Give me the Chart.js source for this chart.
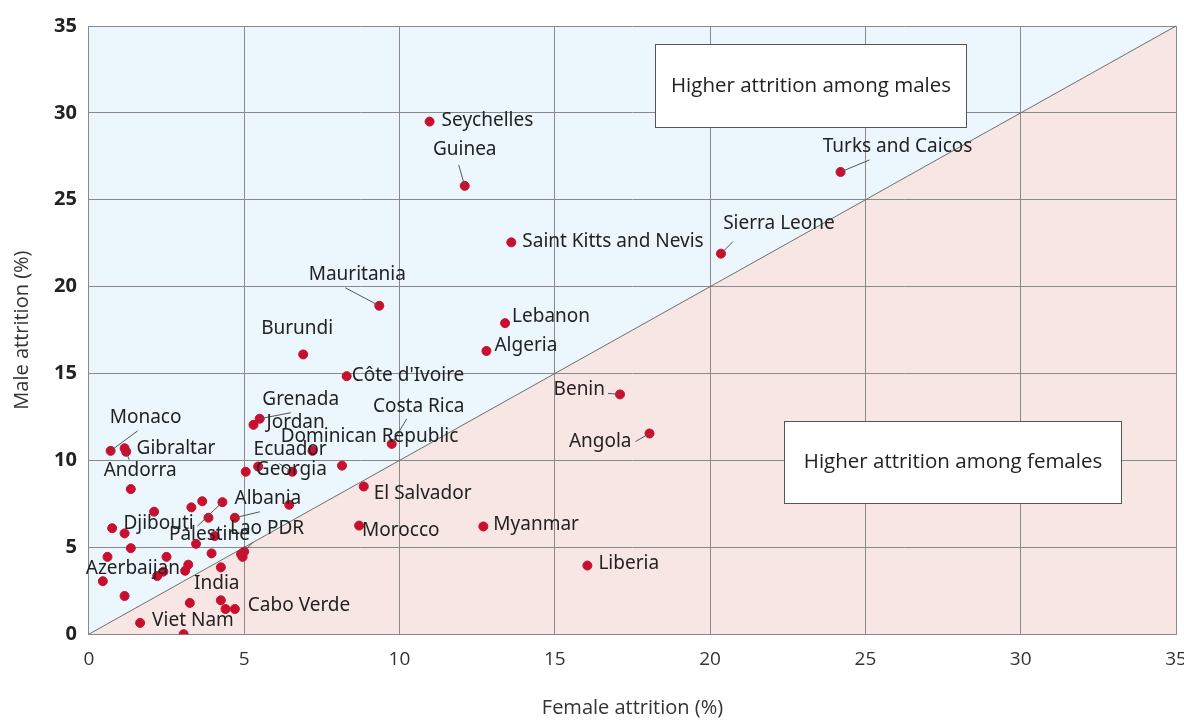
<!DOCTYPE html>
<html>
<head>
<meta charset="utf-8">
<script src="https://cdn.jsdelivr.net/npm/chart.js@4"></script>
<style>
  html, body { margin: 0; padding: 0; background: #fff; }
  #wrap { width: 1184px; height: 720px; position: relative; }
</style>
</head>
<body>
<div id="wrap"><canvas id="chart"></canvas></div>
<script>
// Attrition by country (%)
const countries = [
    'Seychelles', 'Guinea', 'Turks and Caicos', 'Saint Kitts and Nevis', 'Sierra Leone',
    'Mauritania', 'Lebanon', 'Algeria', 'Burundi', "Côte d'Ivoire",
    'Benin', 'Angola', 'Costa Rica', 'Dominican Republic', 'Grenada',
    'Jordan', 'Ecuador', 'Georgia', 'El Salvador', 'Morocco',
    'Myanmar', 'Liberia', 'Monaco', 'Gibraltar', 'Andorra',
    'Albania', 'Djibouti', 'Palestine', 'Lao PDR', 'Azerbaijan',
    'India', 'Cabo Verde', 'Viet Nam',
    '', '', '', '', '', '', '', '', '', '', '', '', '',
    '', '', '', '', '', '', '', '', '', '', '', '', ''
];
const femaleAttrition = [
    10.97, 12.1, 24.2, 13.6, 20.35,
    9.35, 13.4, 12.8, 6.9, 8.3,
    17.1, 18.05, 9.75, 7.2, 5.5,
    5.3, 5.45, 6.55, 8.85, 8.7,
    12.7, 16.05, 0.7, 1.15, 1.2,
    4.7, 1.15, 4.3, 4.9, 0.45,
    3.25, 4.7, 1.65,
    8.15, 5.05, 6.45, 1.35, 2.1, 3.3, 3.65, 3.85, 0.75, 4.05, 3.45, 1.35, 3.95,
    5.0, 4.95, 0.6, 2.5, 3.2, 3.1, 2.4, 2.2, 4.25, 1.15, 4.25, 4.4, 3.05
];
const maleAttrition = [
    29.5, 25.8, 26.6, 22.55, 21.9,
    18.9, 17.9, 16.3, 16.1, 14.85,
    13.8, 11.55, 10.95, 10.55, 12.4,
    12.05, 9.65, 9.35, 8.5, 6.25,
    6.2, 3.95, 10.55, 10.7, 10.5,
    6.7, 5.8, 7.6, 4.6, 3.05,
    1.8, 1.45, 0.65,
    9.7, 9.35, 7.45, 8.35, 7.05, 7.3, 7.65, 6.7, 6.1, 5.65, 5.2, 4.95, 4.65,
    4.75, 4.45, 4.45, 4.45, 4.0, 3.65, 3.6, 3.35, 3.85, 2.2, 1.95, 1.45, 0.0
];
const axisTicks = [0, 5, 10, 15, 20, 25, 30, 35];

// Label placement: [dx, dy, align, leaderDx, leaderDy] in px from the dot
const labelPlacement = {
    'Seychelles': [12, -1, 'left'],
    'Guinea': [0, -36, 'center', -6, -21],
    'Turks and Caicos': [57, -25, 'center', 29, -12],
    'Saint Kitts and Nevis': [11, -1, 'left'],
    'Sierra Leone': [58, -30, 'center', 12, -12],
    'Mauritania': [-22, -31, 'center', -34, -18],
    'Lebanon': [7, -7, 'left'],
    'Algeria': [8, -5, 'left'],
    'Burundi': [-6, -26, 'center'],
    "Côte d'Ivoire": [5, -1, 'left'],
    'Benin': [-15, -5, 'right', -12, -1],
    'Angola': [-18, 8, 'right', -14, 8],
    'Costa Rica': [27, -37, 'center', 15, -25],
    'Dominican Republic': [57, -14, 'center'],
    'Grenada': [41, -19, 'center', 31, -6],
    'Jordan': [13, -2, 'left'],
    'Ecuador': [32, -17, 'center'],
    'Georgia': [-1, -2, 'center', -13, -8],
    'El Salvador': [10, 7, 'left'],
    'Morocco': [3, 5, 'left'],
    'Myanmar': [10, -2, 'left'],
    'Liberia': [11, -2, 'left'],
    'Monaco': [35, -33, 'center', 27, -20],
    'Gibraltar': [12, 0, 'left'],
    'Andorra': [14, 19, 'center', 3, 8],
    'Albania': [33, -19, 'center', 25, -6],
    'Djibouti': [34, -10, 'center'],
    'Palestine': [-13, 32, 'center', -25, 24],
    'Lao PDR': [26, -26, 'center', 12, -12],
    'Azerbaijan': [30, -13, 'center'],
    'India': [27, -19, 'center'],
    'Cabo Verde': [13, -3, 'left'],
    'Viet Nam': [12, -2, 'left']
};

const points = femaleAttrition.map((f, i) => ({ x: f, y: maleAttrition[i], name: countries[i] }));

const regionPlugin = {
    id: 'regions',
    beforeDraw(chart) {
        const { ctx, chartArea: a, scales: { x, y } } = chart;
        ctx.save();
        ctx.fillStyle = '#ebf6fd';
        ctx.fillRect(a.left, a.top, a.right - a.left, a.bottom - a.top);
        ctx.fillStyle = '#f8e6e4';
        ctx.beginPath();
        ctx.moveTo(x.getPixelForValue(0), y.getPixelForValue(0));
        ctx.lineTo(x.getPixelForValue(35), y.getPixelForValue(35));
        ctx.lineTo(x.getPixelForValue(35), y.getPixelForValue(0));
        ctx.closePath();
        ctx.fill();
        ctx.restore();
    },
    beforeDatasetsDraw(chart) {
        const { ctx, scales: { x, y } } = chart;
        ctx.save();
        ctx.strokeStyle = '#6f6f6f';
        ctx.lineWidth = 1;
        ctx.beginPath();
        ctx.moveTo(x.getPixelForValue(0), y.getPixelForValue(0));
        ctx.lineTo(x.getPixelForValue(35), y.getPixelForValue(35));
        ctx.stroke();

        // annotation boxes
        const boxes = [
            { x0: 18.24, x1: 28.24, y0: 33.97, y1: 29.18, text: 'Higher attrition among males' },
            { x0: 22.39, x1: 33.23, y0: 12.28, y1: 7.55, text: 'Higher attrition among females' }
        ];
        boxes.forEach(b => {
            const l = Math.round(x.getPixelForValue(b.x0)) + 0.5;
            const r = Math.round(x.getPixelForValue(b.x1)) + 0.5;
            const t = Math.round(y.getPixelForValue(b.y0)) + 0.5;
            const btm = Math.round(y.getPixelForValue(b.y1)) + 0.5;
            ctx.fillStyle = '#ffffff';
            ctx.fillRect(l, t, r - l, btm - t);
            ctx.strokeStyle = '#555';
            ctx.strokeRect(l, t, r - l, btm - t);
            ctx.fillStyle = '#222';
            ctx.font = "20.5px 'Open Sans', sans-serif";
            ctx.textAlign = 'center';
            ctx.textBaseline = 'middle';
            ctx.fillText(b.text, (l + r) / 2, (t + btm) / 2);
        });
        ctx.restore();
    },
    afterDatasetsDraw(chart) {
        const { ctx } = chart;
        const meta = chart.getDatasetMeta(0);
        ctx.save();
        ctx.font = "19px 'Noto Sans', sans-serif";
        ctx.textBaseline = 'middle';
        meta.data.forEach((el, i) => {
            const name = countries[i];
            if (!name || !labelPlacement[name]) return;
            const [dx, dy, align, lx, ly] = labelPlacement[name];
            if (lx !== undefined) {
                ctx.strokeStyle = '#555';
                ctx.lineWidth = 1;
                ctx.beginPath();
                ctx.moveTo(el.x, el.y);
                ctx.lineTo(el.x + lx, el.y + ly);
                ctx.stroke();
            }
            ctx.fillStyle = '#222';
            ctx.textAlign = align;
            ctx.fillText(name, el.x + dx, el.y + dy);
        });
        ctx.restore();
    }
};

new Chart(document.getElementById('chart'), {
    type: 'scatter',
    data: {
        datasets: [{
            label: 'Attrition',
            data: points,
            backgroundColor: '#c8102e',
            borderColor: '#c8102e',
            pointRadius: 4.5,
            pointHoverRadius: 4.5
        }]
    },
    options: {
        responsive: true,
        maintainAspectRatio: false,
        animation: false,
        layout: { padding: { top: 26, right: 8, left: 10, bottom: 0 } },
        plugins: {
            legend: { display: false },
            tooltip: { enabled: false }
        },
        scales: {
            x: {
                type: 'linear',
                min: 0,
                max: 35,
                afterBuildTicks: axis => { axis.ticks = axisTicks.map(v => ({ value: v })); },
                afterFit: axis => { axis.paddingLeft = 0; axis.paddingRight = 0; },
                grid: { color: '#8a8a8a', lineWidth: 1, drawTicks: false },
                border: { color: '#8a8a8a' },
                ticks: {
                    color: '#333',
                    padding: 14,
                    font: { family: "'Open Sans', sans-serif", size: 19 }
                },
                title: {
                    display: true,
                    text: 'Female attrition (%)',
                    color: '#333',
                    padding: { top: 11, bottom: 0 },
                    font: { family: "'Open Sans', sans-serif", size: 20 }
                }
            },
            y: {
                type: 'linear',
                min: 0,
                max: 35,
                afterBuildTicks: axis => { axis.ticks = axisTicks.map(v => ({ value: v })); },
                grid: { color: '#8a8a8a', lineWidth: 1, drawTicks: false },
                border: { color: '#8a8a8a' },
                ticks: {
                    color: '#222',
                    padding: 12,
                    font: { family: "'Open Sans', sans-serif", size: 20, weight: 'bold' }
                },
                title: {
                    display: true,
                    text: 'Male attrition (%)',
                    color: '#333',
                    padding: { top: 0, bottom: 8 },
                    font: { family: "'Open Sans', sans-serif", size: 20 }
                }
            }
        }
    },
    plugins: [regionPlugin]
});
</script>
</body>
</html>
